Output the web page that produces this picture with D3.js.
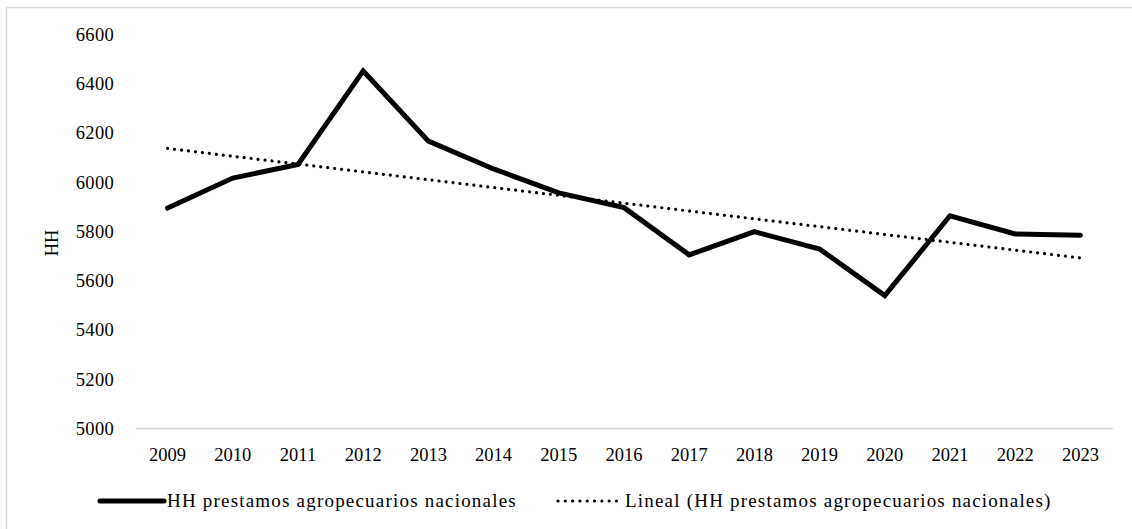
<!DOCTYPE html>
<html>
<head>
<meta charset="utf-8">
<script src="https://cdn.jsdelivr.net/npm/d3@7"></script>
<style>
  html, body { margin: 0; padding: 0; background: #fff; }
  svg { display: block; }
  svg text { font-family: "Liberation Serif", Tinos, "Times New Roman", Times, "DejaVu Serif", serif !important; fill: #000; }
</style>
</head>
<body>
<svg id="chart" width="1132" height="529"></svg>
<script>
// Annual HH index of national agricultural loans
const years = ["2009","2010","2011","2012","2013","2014","2015","2016","2017","2018","2019","2020","2021","2022","2023"];
const hhValues = [5893, 6015, 6070, 6450, 6165, 6052, 5955, 5895, 5703, 5797, 5727, 5538, 5862, 5788, 5783];
const yTicks = [5000, 5200, 5400, 5600, 5800, 6000, 6200, 6400, 6600];
const seriesName = "HH prestamos agropecuarios nacionales";
const trendName = "Lineal (HH prestamos agropecuarios nacionales)";
const yTitle = "HH";

const svg = d3.select("#chart");
const W = 1132, H = 529;
const plot = { left: 135, right: 1113, top: 34, bottom: 428 };

// outer chart frame (only the top and left edges fall inside the page)
svg.append("rect")
  .attr("x", 6.5).attr("y", 7.5)
  .attr("width", W + 20).attr("height", H + 20)
  .attr("fill", "none").attr("stroke", "#d9d9d9").attr("stroke-width", 1.5);

const x = d3.scaleBand().domain(years).range([plot.left, plot.right]).padding(0);
const y = d3.scaleLinear().domain([5000, 6600]).range([plot.bottom, plot.top]);
const cx = d => x(d) + x.bandwidth() / 2;

// y axis labels
const yAxis = d3.axisLeft(y).tickValues(yTicks).tickSize(0).tickPadding(0).tickFormat(d3.format("d"));
const gy = svg.append("g").attr("transform", `translate(${plot.left - 21},0)`).call(yAxis);
gy.attr("font-family", null);
gy.select(".domain").remove();
gy.selectAll("text").attr("font-size", 18.5).attr("dy", "0.34em").attr("letter-spacing", 0.3);

// category axis
const xAxis = d3.axisBottom(x).tickSize(0).tickPadding(0);
const gx = svg.append("g").attr("transform", `translate(0,${plot.bottom})`).call(xAxis);
gx.attr("font-family", null);
gx.select(".domain").attr("stroke", "#d9d9d9").attr("stroke-width", 1.5);
gx.selectAll("text").attr("font-size", 18.5).attr("y", 27).attr("dy", "0.34em");

// axis title
svg.append("text")
  .attr("transform", `translate(52,243) rotate(-90)`)
  .attr("text-anchor", "middle").attr("dy", "0.34em")
  .attr("font-size", 18.5).text(yTitle);

// least-squares linear trend
const idx = hhValues.map((_, i) => i);
const mx = d3.mean(idx), my = d3.mean(hhValues);
const slope = d3.sum(idx, i => (i - mx) * (hhValues[i] - my)) / d3.sum(idx, i => (i - mx) ** 2);
const intercept = my - slope * mx;
const trend = years.map((yr, i) => ({ yr, v: intercept + slope * i }));

const line = d3.line().x(d => cx(d.yr)).y(d => y(d.v));

svg.append("path")
  .datum(trend)
  .attr("d", line)
  .attr("fill", "none").attr("stroke", "#000")
  .attr("stroke-width", 3.2).attr("stroke-linecap", "round")
  .attr("stroke-dasharray", "0.01 7");

svg.append("path")
  .datum(years.map((yr, i) => ({ yr, v: hhValues[i] })))
  .attr("d", line)
  .attr("fill", "none").attr("stroke", "#000")
  .attr("stroke-width", 5).attr("stroke-linejoin", "miter").attr("stroke-linecap", "round");

// legend
const ly = 501;
const lg = svg.append("g");
lg.append("line").attr("x1", 100).attr("x2", 164).attr("y1", ly).attr("y2", ly)
  .attr("stroke", "#000").attr("stroke-width", 5).attr("stroke-linecap", "round");
lg.append("text").attr("x", 167).attr("y", ly).attr("dy", "0.32em")
  .attr("font-size", 19).attr("letter-spacing", 1.2).text(seriesName);
lg.append("line").attr("x1", 558).attr("x2", 617).attr("y1", ly).attr("y2", ly)
  .attr("stroke", "#000").attr("stroke-width", 3.2).attr("stroke-linecap", "round")
  .attr("stroke-dasharray", "0.01 7.3");
lg.append("text").attr("x", 625).attr("y", ly).attr("dy", "0.32em")
  .attr("font-size", 19).attr("letter-spacing", 1.2).text(trendName);
</script>
</body>
</html>
